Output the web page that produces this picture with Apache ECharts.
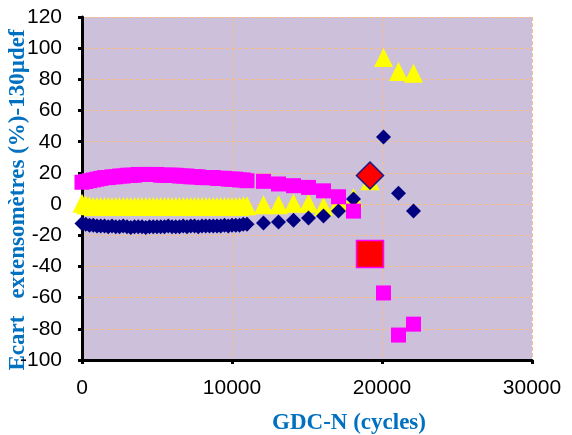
<!DOCTYPE html>
<html>
<head>
<meta charset="utf-8">
<script src="https://cdn.jsdelivr.net/npm/echarts@6/dist/echarts.min.js"></script>
<style>html,body{margin:0;padding:0;background:#fff;}#c{width:572px;height:435px;}</style>
</head>
<body>
<div id="c"></div>
<script>
// ---- data ----
var denseX = [0,250,500,750,1000,1250,1500,1750,2000,2250,2500,2750,3000,3250,3500,3750,4000,4250,4500,4750,5000,5250,5500,5750,6000,6250,6500,6750,7000,7250,7500,7750,8000,8250,8500,8750,9000,9250,9500,9750,10000,10250,10500,10750,11000];
var lateX = [12100,13100,14100,15100,16100,17100,18100,19200,20100,21100,22100];

var navyDense = [-12.5,-13,-13.5,-13.5,-14,-14,-14,-14.5,-14,-14.5,
  -14.5,-14,-14.5,-15,-14.5,-14.5,-14.5,-15,-14.5,-14.5,
  -14.5,-14.5,-14.5,-14,-14.5,-14.5,-14.5,-14,-14.5,-14,
  -14,-14.5,-14,-14,-14,-14,-14,-14,-13.5,-14,
  -13.5,-13.5,-13.5,-13,-13];
var navyLate = [-12.2,-11.5,-10.3,-9,-7.7,-4.5,3.2,18.3,43,7,-4.5];

var yellowDense = [0.5,-0.5,-1,-1.5,-1.5,-1.5,-1.5,-1.5,-1.5,-1.5,
  -1.5,-1.5,-1.5,-1.5,-1.5,-1.5,-1.5,-1.5,-1.5,-1.5,
  -1.5,-1.5,-1.5,-1.5,-1.5,-1.5,-1.5,-1.5,-1.5,-1.5,
  -1.5,-1.5,-1.5,-1.5,-1.5,-1.5,-1.5,-1.5,-1.5,-1.5,
  -1.5,-1.5,-1.5,-1,-1];
var yellowLate = [-0.5,-0.5,0.5,0.5,-1.5,1,4,15,94,85,84];

var magentaDense = [14,14.5,15,15.5,16,16.5,17,17,17.5,17.5,
  18,18,18.5,18.5,18.5,19,19,19,19,19,
  19,18.5,18.5,18.5,18.5,18.5,18,18,18,17.5,
  17.5,17.5,17,17,17,17,16.5,16.5,16.5,16,
  16,16,15.5,15.5,15];
var magentaLate = [14.6,12.9,11.8,10.7,8.5,4.7,-4.5,-32,-57,-84,-77];

var highlightIndex = 7; // late point drawn enlarged in red
var xTicks = [0,10000,20000,30000];
var yTicks = [-100,-80,-60,-40,-20,0,20,40,60,80,100,120];
var xTitle = 'GDC-N (cycles)';
var yTitle = 'Ecart   extensomètres (%)-130µdef';

// ---- build ----
var allX = denseX.concat(lateX);
function build(ys, hiStyle){
  return allX.map(function(x,i){
    if(hiStyle && i === denseX.length + highlightIndex)
      return {value:[x, ys[i]], symbolSize:27, itemStyle:hiStyle};
    return [x, ys[i]];
  });
}

var chart = echarts.init(document.getElementById('c'), null, {renderer:'canvas'});
function gridLine(){ return {show:true, lineStyle:{color:'#F5BC8C', type:'dashed', width:1, opacity:1}}; }
chart.setOption({
  animation:false,
  backgroundColor:'#ffffff',
  grid:{left:82, right:40, top:17, bottom:75, show:true, backgroundColor:'#CCC0DA', borderWidth:0,
        containLabel:false, outerBoundsMode:'none'},
  xAxis:{
    type:'value', min:xTicks[0], max:xTicks[xTicks.length-1], interval:10000,
    axisLine:{show:true, onZero:false, lineStyle:{color:'#000', width:3}},
    axisTick:{show:true, inside:false, length:4, lineStyle:{color:'#000', width:3}},
    axisLabel:{fontSize:21, color:'#000', margin:18, fontFamily:'Liberation Sans', formatter:function(v){return String(v);}},
    splitLine:gridLine(),
    name:xTitle, nameLocation:'middle', nameGap:52, nameMoveOverlap:false,
    nameTextStyle:{fontFamily:'Liberation Serif', fontWeight:'bold', fontSize:23, color:'#0070C0', padding:[0,0,0,84]}
  },
  yAxis:{
    type:'value', min:yTicks[0], max:yTicks[yTicks.length-1], interval:20,
    axisLine:{show:true, onZero:false, lineStyle:{color:'#000', width:3}},
    axisTick:{show:true, inside:false, length:4, lineStyle:{color:'#000', width:3}},
    axisLabel:{fontSize:21, color:'#000', margin:20, fontFamily:'Liberation Sans'},
    splitLine:gridLine(),
    name:yTitle, nameLocation:'middle', nameGap:52, nameRotate:90, nameMoveOverlap:false,
    nameTextStyle:{fontFamily:'Liberation Serif', fontWeight:'bold', fontSize:23, color:'#0070C0', padding:[0,23,0,0]}
  },
  series:[
    {type:'scatter', name:'yellow', symbol:'triangle', symbolSize:[19,19],
      itemStyle:{color:'#FFFF00', opacity:1},
      data:build(yellowDense.concat(yellowLate), null)},
    {type:'scatter', name:'navy', symbol:'diamond', symbolSize:15,
      itemStyle:{color:'#000080', opacity:1},
      data:build(navyDense.concat(navyLate), {color:'#FF0000', borderColor:'#1a1a80', borderWidth:1.5})},
    {type:'scatter', name:'magenta', symbol:'rect', symbolSize:15,
      itemStyle:{color:'#FF00FF', opacity:1},
      data:build(magentaDense.concat(magentaLate), {color:'#FF0000', borderColor:'#FF00FF', borderWidth:1.5})}
  ]
});
</script>
</body>
</html>
